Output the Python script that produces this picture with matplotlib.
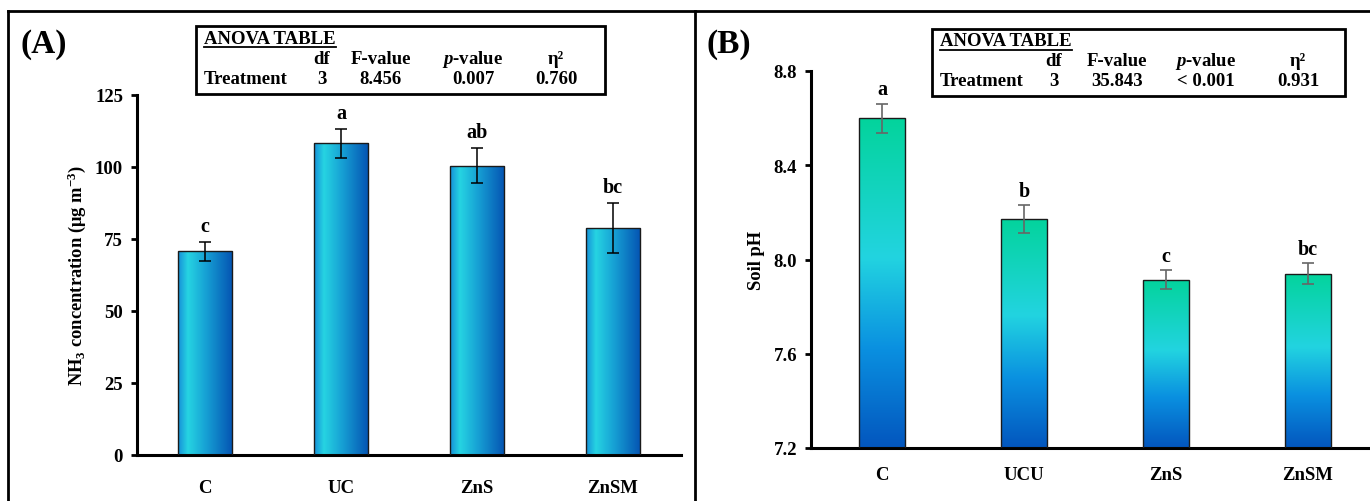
import numpy as np
import matplotlib
matplotlib.use("Agg")
import matplotlib.pyplot as plt
from matplotlib.colors import LinearSegmentedColormap
from matplotlib.lines import Line2D
from matplotlib.patches import Rectangle

plt.rcParams['font.family'] = ['Liberation Serif', 'DejaVu Serif']
plt.rcParams['font.weight'] = 'bold'
plt.rcParams['mathtext.fontset'] = 'custom'
plt.rcParams['mathtext.rm'] = 'Liberation Serif:bold'
plt.rcParams['mathtext.it'] = 'Liberation Serif:italic:bold'
plt.rcParams['mathtext.bf'] = 'Liberation Serif:bold'
plt.rcParams['mathtext.default'] = 'regular'

# --- dados ---
cats_a = ["C", "UC", "ZnS", "ZnSM"]
nh3 = [70.8, 108.2, 100.5, 78.8]
nh3_err = [3.3, 5.0, 6.1, 8.7]
letters_a = ["c", "a", "ab", "bc"]

cats_b = ["C", "UCU", "ZnS", "ZnSM"]
ph = [8.60, 8.172, 7.915, 7.940]
ph_err = [0.062, 0.060, 0.040, 0.046]
letters_b = ["a", "b", "c", "bc"]

anova_a = ["3", "8.456", "0.007", "0.760"]
anova_b = ["3", "35.843", "< 0.001", "0.931"]

W, H = 1370, 502
FS = 13.5
fig = plt.figure(figsize=(W / 100, H / 100), dpi=100)

cmap_a = LinearSegmentedColormap.from_list("a", [(0, '#168fd8'), (0.18, '#26d4e2'),
                                                 (0.5, '#17a2d5'), (1, '#0453b2')])
cmap_b = LinearSegmentedColormap.from_list("b", [(0, '#0356be'), (0.3, '#0a90e0'),
                                                 (0.58, '#22d4e0'), (1, '#03d39c')])


def px(x, y):
    return x / W, 1 - y / H


def style_axes(ax, pad_x):
    for s in ['top', 'right']:
        ax.spines[s].set_visible(False)
    for s in ['left', 'bottom']:
        ax.spines[s].set_linewidth(2.2)
    ax.tick_params(axis='y', direction='out', length=4, width=2, labelsize=FS, pad=6)
    ax.tick_params(axis='x', length=0, labelsize=FS, pad=pad_x)


def gradient_bars(ax, vals, base, width, cmap, horizontal):
    x = np.arange(len(vals))
    bars = ax.bar(x, np.array(vals) - base, width, bottom=base, color='none',
                  edgecolor='#1a1a1a', linewidth=1.0, zorder=3)
    grad = np.linspace(0, 1, 256)
    for b in bars:
        x0, y0 = b.get_x(), b.get_y()
        x1, y1 = x0 + b.get_width(), y0 + b.get_height()
        img = grad.reshape(1, -1) if horizontal else grad.reshape(-1, 1)
        im = ax.imshow(img, cmap=cmap, extent=[x0, x1, y0, y1], origin='lower',
                       aspect='auto', zorder=2)
        im.set_clip_path(b)
    return x


# --- Painel A ---
ax1 = fig.add_axes([137 / W, 1 - 456 / H, 544 / W, 360 / H])
xa = gradient_bars(ax1, nh3, 0, 0.40, cmap_a, True)
ax1.errorbar(xa, nh3, yerr=nh3_err, fmt='none', ecolor='black', elinewidth=1.1,
             capsize=4, capthick=1.1, zorder=4)
for i, (v, e, t) in enumerate(zip(nh3, nh3_err, letters_a)):
    ax1.annotate(t, (i, v + e), xytext=(0, 4), textcoords='offset points',
                 ha='center', va='bottom', fontsize=14.5, fontweight='bold')
ax1.set_xlim(-0.5, 3.5)
ax1.set_ylim(0, 125)
ax1.set_yticks([0, 25, 50, 75, 100, 125])
ax1.set_xticks(xa)
ax1.set_xticklabels(cats_a)
style_axes(ax1, 17)
ax1.set_ylabel("NH$_3$ concentration (μg m$^{-3}$)", fontsize=13.3, fontweight='bold')
ax1.yaxis.set_label_coords(-0.09, 0.5)

# --- Painel B ---
ax2 = fig.add_axes([811 / W, 1 - 449 / H, 568 / W, 377 / H])
xb = gradient_bars(ax2, ph, 7.2, 0.32, cmap_b, False)
ax2.errorbar(xb, ph, yerr=ph_err, fmt='none', ecolor='#666666', elinewidth=1.2,
             capsize=4, capthick=1.2, zorder=4)
for i, (v, e, t) in enumerate(zip(ph, ph_err, letters_b)):
    ax2.annotate(t, (i, v + e), xytext=(0, 3), textcoords='offset points',
                 ha='center', va='bottom', fontsize=14.5, fontweight='bold')
ax2.set_xlim(-0.5, 3.5)
ax2.set_ylim(7.2, 8.8)
ax2.set_yticks([7.2, 7.6, 8.0, 8.4, 8.8])
ax2.set_yticklabels(["7.2", "7.6", "8.0", "8.4", "8.8"])
ax2.set_xticks(xb)
ax2.set_xticklabels(cats_b)
style_axes(ax2, 13)
ax2.set_ylabel("Soil pH", fontsize=13.3, fontweight='bold')
ax2.yaxis.set_label_coords(-0.081, 0.5)

# --- rótulos (A) (B) ---
fig.text(*px(21, 45), "(A)", fontsize=24, fontweight='bold', va='center')
fig.text(*px(707, 45), "(B)", fontsize=24, fontweight='bold', va='center')

# --- tabelas ANOVA ---
def anova_box(x0, y0, x1, y1, cols, vals):
    fig.add_artist(Rectangle(px(x0, y1), (x1 - x0) / W, (y1 - y0) / H,
                             transform=fig.transFigure, fill=False, lw=2, ec='black'))
    t = fig.text(*px(x0 + 8, y0 + 12), "ANOVA TABLE", fontsize=FS,
                 fontweight='bold', va='center')
    fig.canvas.draw()
    bb = t.get_window_extent().transformed(fig.transFigure.inverted())
    fig.add_artist(Line2D([bb.x0, bb.x1], [bb.y0 - 0.001, bb.y0 - 0.001],
                          transform=fig.transFigure, color='black', lw=1.3))
    heads = ["df", "F-value", r"$\mathit{p}$-value", "η²"]
    for cx, h in zip(cols, heads):
        fig.text(*px(cx, y0 + 32), h, fontsize=FS, fontweight='bold',
                 ha='center', va='center')
    fig.text(*px(x0 + 8, y0 + 52), "Treatment", fontsize=FS, fontweight='bold', va='center')
    for cx, v in zip(cols, vals):
        fig.text(*px(cx, y0 + 52), v, fontsize=FS, fontweight='bold',
                 ha='center', va='center')


anova_box(196, 27, 605, 95, [322, 381, 473, 556], anova_a)
anova_box(932, 30, 1345, 97, [1054, 1117, 1206, 1298], anova_b)

# --- moldura ---
for xs, ys in [([8, 1370], [12, 12]), ([8, 8], [12, 502]), ([695, 695], [12, 502])]:
    fig.add_artist(Line2D([x / W for x in xs], [1 - y / H for y in ys],
                          transform=fig.transFigure, color='black', lw=2))

fig.savefig("out.png", dpi=100)
